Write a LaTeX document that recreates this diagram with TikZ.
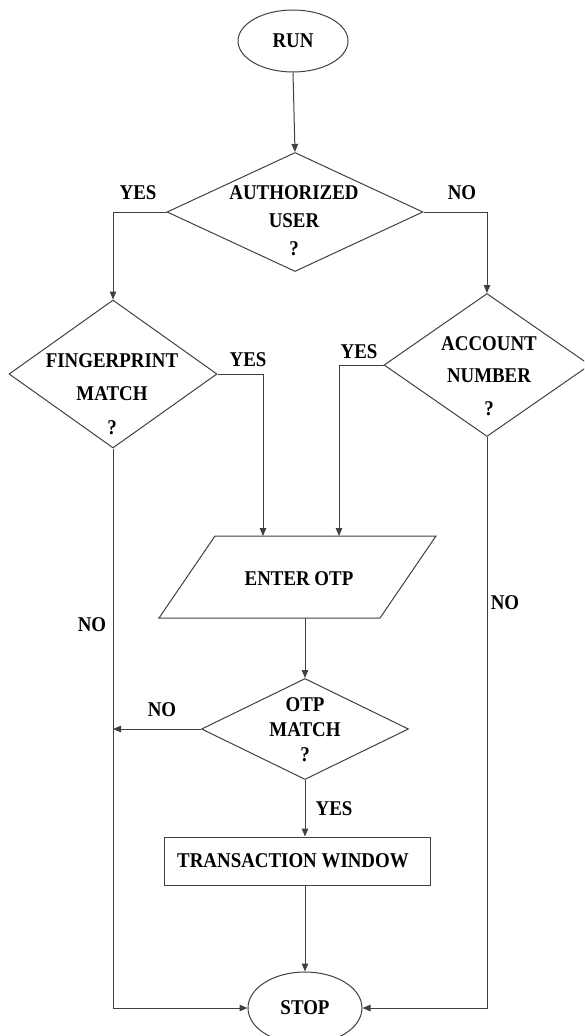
\documentclass[tikz,border=0pt]{standalone}
\usepackage{fontspec}
\setmainfont{Liberation Serif}[FakeStretch=0.9]
\usetikzlibrary{shapes.geometric,arrows.meta}
\tikzset{
  ln/.style={draw=black!75, line width=1pt},
  arr/.style={ln, -{Triangle[length=8pt,width=6.5pt]}},
  term/.style={ln, ellipse, inner sep=0pt},
  dec/.style={ln, diamond, inner sep=0pt},
  txt/.style={align=center, inner sep=0pt, font=\fontsize{21}{27}\selectfont\bfseries},
  lbl/.style={inner sep=0pt, font=\fontsize{21}{25}\selectfont\bfseries},
}
\begin{document}
\begin{tikzpicture}[x=1pt,y=-1pt]
\useasboundingbox (0,0) rectangle (584,1036);
\clip (0,0) rectangle (584,1036);
% terminals
\node[term, minimum width=110pt, minimum height=62pt] (run) at (293,41) {};
\node[lbl] at (run) {RUN};
\node[term, minimum width=114pt, minimum height=72pt] (stop) at (305,1008) {};
\node[lbl] at (stop) {STOP};
% decisions
\node[dec, minimum width=256pt, minimum height=119pt] (auth) at (295,212) {};
\node[txt, font=\fontsize{21}{28}\selectfont\bfseries] at (294,221) {AUTHORIZED\\USER\\?};
\node[dec, minimum width=208pt, minimum height=148pt] (fp) at (113,374) {};
\node[txt, font=\fontsize{21}{33.5}\selectfont\bfseries] at (112,394) {FINGERPRINT\\MATCH\\?};
\node[dec, minimum width=206pt, minimum height=143pt] (acc) at (487,365) {};
\node[txt, font=\fontsize{21}{32.5}\selectfont\bfseries] at (489,376) {ACCOUNT\\NUMBER\\?};
\node[dec, minimum width=207pt, minimum height=101pt] (otpd) at (305,729) {};
\node[txt, font=\fontsize{21}{25}\selectfont\bfseries] at (305,730) {OTP\\MATCH\\?};
% input parallelogram
\coordinate (pTL) at (215,536);
\coordinate (pTR) at (436,536);
\coordinate (pBR) at (380,618);
\coordinate (pBL) at (159,618);
\draw[ln] (pTL) -- (pTR) -- (pBR) -- (pBL) -- cycle;
\node[lbl] (enter) at (299,579) {ENTER OTP};
\coordinate (inA) at (263,536);
\coordinate (inB) at (339,536);
\coordinate (outC) at (305,618);
% process box
\node[ln, rectangle, minimum width=266pt, minimum height=48pt, inner sep=0pt] (box) at (297,861) {};
\node[lbl] at (293,861) {TRANSACTION WINDOW};
% connectors
\draw[arr] (run.south) -- (auth.north);
\draw[arr] (auth.west) -| (fp.north);
\draw[arr] (auth.east) -| (acc.north);
\draw[arr] (fp.east) -| (inA);
\draw[arr] (acc.west) -| (inB);
\draw[arr] (outC) -- (otpd.north);
\draw[arr] (otpd.west) -- (otpd.west -| fp.south);
\draw[arr] (otpd.south) -- (otpd.south |- box.north);
\draw[arr] (box.south -| stop.north) -- (stop.north);
\draw[arr] (fp.south) |- (stop.west);
\draw[arr] (acc.south) |- (stop.east);
% labels
\node[lbl] at (138,193) {YES};
\node[lbl] at (462,193) {NO};
\node[lbl] at (248,360) {YES};
\node[lbl] at (359,352) {YES};
\node[lbl] at (92,625) {NO};
\node[lbl] at (505,603) {NO};
\node[lbl] at (162,710) {NO};
\node[lbl] at (334,809) {YES};
\end{tikzpicture}
\end{document}
